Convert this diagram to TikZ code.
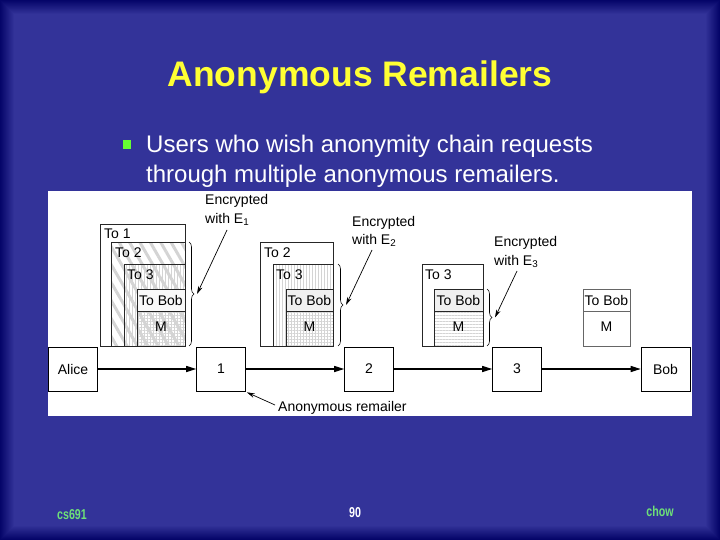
\documentclass[tikz,border=0pt]{standalone}
\usepackage{fontspec}
\setmainfont{Liberation Sans}
\usetikzlibrary{patterns.meta,decorations.pathreplacing,arrows.meta}
\definecolor{bgblue}{RGB}{51,51,153}
\definecolor{edgeblue}{RGB}{5,5,105}
\definecolor{titleyellow}{RGB}{255,255,51}
\definecolor{bulletgreen}{RGB}{102,255,51}
\definecolor{footgreen}{RGB}{110,225,120}
\definecolor{hatch}{RGB}{212,212,212}
\tikzset{
  pkt/.style={draw=black!85, line width=0.6pt},
  lbl/.style={font=\fontsize{14}{16}\selectfont, inner sep=0pt, anchor=base west},
  clbl/.style={font=\fontsize{14}{16}\selectfont, inner sep=0pt, anchor=base},
  box/.style={draw=black, line width=0.6pt, fill=white, minimum width=49pt, minimum height=44pt, inner sep=0pt, font=\fontsize{14}{16}\selectfont},
  mainarrow/.style={line width=1.2pt, -{Triangle[length=10pt,width=6pt]}},
  thinarrow/.style={line width=0.7pt, -{Stealth[length=8pt,width=4.5pt]}},
  bracestyle/.style={decorate, decoration={brace, amplitude=5pt}, line width=0.6pt},
  diag/.style={pattern={Lines[angle=120,distance=9pt,line width=3pt]}, pattern color=hatch},
  vert/.style={pattern={Lines[angle=90,distance=3pt,line width=0.5pt]}, pattern color=hatch},
  horz/.style={pattern={Lines[angle=0,distance=3pt,line width=0.5pt]}, pattern color=hatch},
  foot/.style={font=\fontsize{13}{15}\selectfont\bfseries, inner sep=0pt, anchor=base}
}
\begin{document}
\begin{tikzpicture}[x=1pt,y=-1pt]
\useasboundingbox (0,0) rectangle (720,540);
% background with darker edges
\foreach \i in {0,...,14} {
  \pgfmathsetmacro\p{100*\i/14}
  \fill[bgblue!\p!edgeblue] (\i,\i) rectangle (720-\i,540-\i);
}
% title
\node[font=\fontsize{35.5}{40}\selectfont\bfseries, text=titleyellow, inner sep=0pt, anchor=base] (title) at (360,87) {Anonymous Remailers};
% bullet
\fill[bulletgreen] (123,140) rectangle (131,149);
\node[font=\fontsize{24}{28}\selectfont, text=white, inner sep=0pt, anchor=base west] (bl1) at (146,153) {Users who wish anonymity chain requests};
\node[font=\fontsize{24}{28}\selectfont, text=white, inner sep=0pt, anchor=base west] (bl2) at (146,183) {through multiple anonymous remailers.};
% white panel
\fill[white] (48,191) rectangle (692,416);

% ---- packet 1
\fill[white] (100,224) rectangle (185,346);
\fill[diag] (111,242) rectangle (185,346);
\fill[vert] (124,264) rectangle (185,346);
\fill[gray!5] (137,289) rectangle (185,311);
\fill[horz] (137,311) rectangle (185,346);
\draw[pkt] (100,224) rectangle (185,346);
\draw[pkt] (111,242) rectangle (185,346);
\draw[pkt] (124,264) rectangle (185,346);
\draw[pkt] (137,289) rectangle (185,311);
\draw[pkt] (137,311) rectangle (185,346);
\node[lbl] (p1a) at (104,238) {To 1};
\node[lbl] (p1b) at (115,257) {To 2};
\node[lbl] (p1c) at (127,279) {To 3};
\node[clbl] (p1d) at (161,305) {To Bob};
\node[clbl] (p1e) at (161,331) {M};

% ---- packet 2
\fill[white] (260,242) rectangle (333,346);
\fill[vert] (273,264) rectangle (333,346);
\fill[gray!12] (286,289) rectangle (333,311);
\fill[horz] (286,311) rectangle (333,346);
\draw[pkt] (260,242) rectangle (333,346);
\draw[pkt] (273,264) rectangle (333,346);
\draw[pkt] (286,289) rectangle (333,311);
\draw[pkt] (286,311) rectangle (333,346);
\node[lbl] (p2b) at (264,257) {To 2};
\node[lbl] (p2c) at (276,279) {To 3};
\node[clbl] (p2d) at (309.5,305) {To Bob};
\node[clbl] (p2e) at (309.5,331) {M};

% ---- packet 3
\fill[white] (422,264) rectangle (483,346);
\fill[gray!12] (434,289) rectangle (483,311);
\fill[horz] (434,311) rectangle (483,346);
\draw[pkt] (422,264) rectangle (483,346);
\draw[pkt] (434,289) rectangle (483,311);
\draw[pkt] (434,311) rectangle (483,346);
\node[lbl] (p3c) at (425,279) {To 3};
\node[clbl] (p3d) at (458.5,305) {To Bob};
\node[clbl] (p3e) at (458.5,331) {M};

% ---- packet 4
\draw[pkt, draw=black!60] (583,289) rectangle (630,311);
\draw[pkt, draw=black!60] (583,311) rectangle (630,346);
\node[clbl] (p4d) at (606.5,305) {To Bob};
\node[clbl] (p4e) at (606.5,331) {M};

% ---- braces
\draw[bracestyle] (189,242) -- (189,346);
\draw[bracestyle] (338,264) -- (338,346);
\draw[bracestyle] (487,289) -- (487,346);
\coordinate (b1) at (197,294);
\coordinate (b2) at (346,305);
\coordinate (b3) at (495,317.5);

% ---- encryption labels
\node[lbl] (e1a) at (205,205) {Encrypted};
\node[lbl] (e1b) at (205,223) {with E\textsubscript{1}};
\node[lbl] (e2a) at (352,226) {Encrypted};
\node[lbl] (e2b) at (352,244) {with E\textsubscript{2}};
\node[lbl] (e3a) at (494,247) {Encrypted};
\node[lbl] (e3b) at (494,265) {with E\textsubscript{3}};
\coordinate (e1s) at (227,230);
\coordinate (e2s) at (372,250);
\coordinate (e3s) at (517,271);
\draw[thinarrow] (e1s) -- (b1);
\draw[thinarrow] (e2s) -- (b2);
\draw[thinarrow] (e3s) -- (b3);

% ---- main chain
\node[box] (alice) at (73,369) {Alice};
\node[box] (r1) at (221,369) {1};
\node[box] (r2) at (369,369) {2};
\node[box] (r3) at (517,369) {3};
\node[box] (bob) at (665.5,369) {Bob};
\draw[mainarrow] (alice) -- (r1);
\draw[mainarrow] (r1) -- (r2);
\draw[mainarrow] (r2) -- (r3);
\draw[mainarrow] (r3) -- (bob);
\node[lbl] (remlbl) at (278,411) {Anonymous remailer};
\coordinate (rs) at (275,405);
\draw[thinarrow] (rs) -- ([shift={(1,1)}]r1.south east);

% ---- footer
\node[foot, text=footgreen] (f1) at (72,519) {\scalebox{0.82}[1.1]{cs691}};
\node[foot, text=white] (f2) at (355,517) {\scalebox{0.82}[1.1]{90}};
\node[foot, text=footgreen] (f3) at (660,516) {\scalebox{0.82}[1.1]{chow}};
\end{tikzpicture}
\end{document}
